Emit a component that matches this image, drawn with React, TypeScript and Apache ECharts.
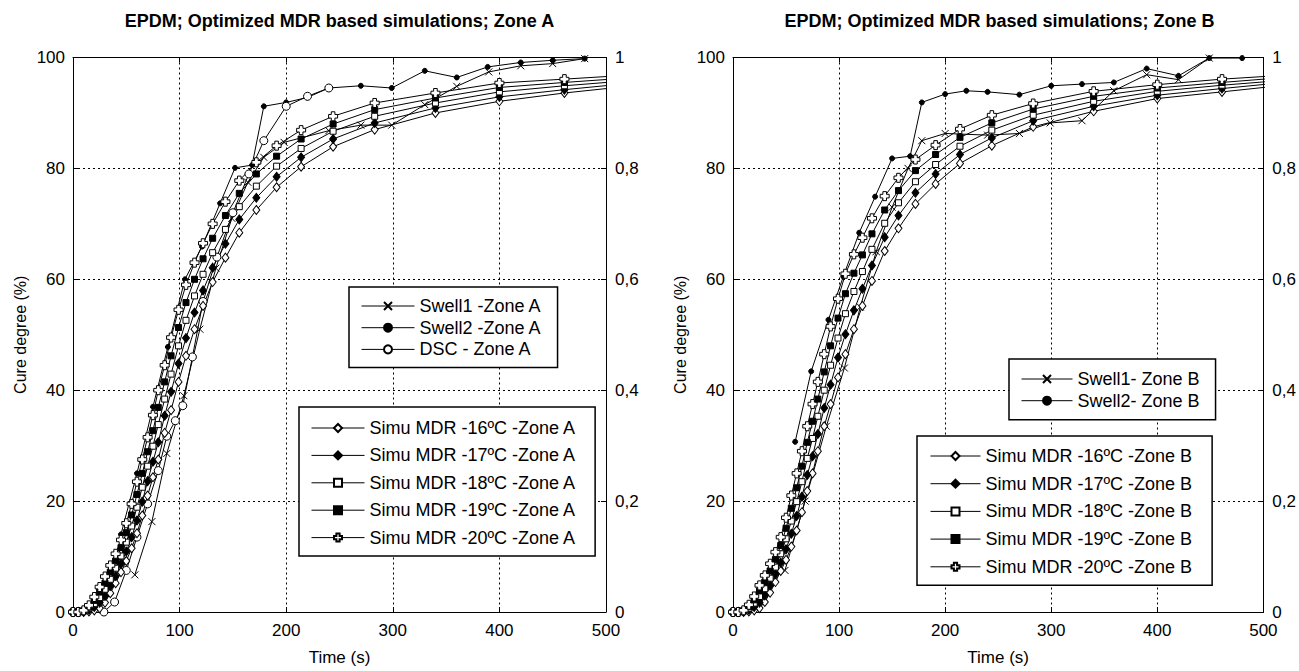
import React, { useEffect, useRef } from 'react';
import * as echarts from 'echarts';

// ---------- DATA ----------
const simuTimes = [0, 5, 10, 15, 20, 25, 30, 35, 40, 45, 50, 55, 60, 65, 70, 75, 80, 86, 92, 99, 106, 114, 122, 131, 143, 156, 172, 191, 214, 244, 283, 340, 400, 461, 520];

const simu16A = [0, 0, 0, 0.1, 0.3, 0.7, 1.7, 3.4, 5.2, 7.2, 9.2, 11.5, 14.2, 17.4, 21, 24.3, 27.5, 32.3, 36.4, 41.5, 46.2, 51, 55.2, 59.5, 63.9, 68.4, 72.5, 76.6, 80.3, 83.9, 87.0, 90.0, 92.1, 93.6, 94.8];
const simu17A = [0, 0, 0.1, 0.4, 0.9, 1.7, 2.9, 4.7, 6.5, 8.7, 10.9, 13.5, 16.5, 19.9, 23.6, 27.1, 30.6, 35.4, 39.7, 44.8, 49.4, 54, 58, 62.1, 66.4, 70.8, 74.7, 78.5, 82, 85.3, 88.2, 90.9, 92.9, 94.2, 95.3];
const simu18A = [0, 0, 0.2, 0.7, 1.5, 2.6, 4.1, 5.9, 7.9, 10.1, 12.6, 15.5, 18.9, 22.5, 26.3, 29.9, 33.8, 38.4, 42.9, 48, 52.6, 57, 60.9, 64.8, 69, 73.1, 76.8, 80.4, 83.6, 86.7, 89.4, 91.8, 93.8, 94.9, 95.8];
const simu19A = [0, 0, 0.2, 0.9, 2.1, 3.6, 5.2, 7.2, 9.2, 11.6, 14.3, 17.5, 21.2, 25, 28.9, 32.7, 36.9, 41.5, 46.2, 51.3, 55.8, 60, 63.7, 67.4, 71.5, 75.5, 79, 82.2, 85.3, 88, 90.6, 92.7, 94.6, 95.5, 96.3];
const simu20A = [0, 0, 0.3, 1.2, 2.7, 4.5, 6.4, 8.4, 10.5, 13, 16, 19.5, 23.5, 27.5, 31.5, 35.5, 40, 44.5, 49.5, 54.5, 59, 63, 66.5, 70, 74, 77.8, 81.1, 84.1, 86.9, 89.4, 91.8, 93.6, 95.4, 96.1, 96.8];

const simu16B = [0, 0, 0, 0.1, 0.3, 0.7, 1.8, 3.5, 5.4, 7.4, 9.4, 11.8, 14.7, 18, 21.8, 25, 29, 33.5, 37.5, 42.3, 46.5, 51, 55.2, 59.7, 65.1, 69.2, 73.6, 77.2, 80.9, 84.1, 87.5, 90.3, 92.6, 93.8, 95];
const simu17B = [0, 0, 0.1, 0.4, 0.9, 1.7, 3.0, 4.8, 6.8, 8.9, 11.3, 14.1, 17.3, 20.8, 24.7, 28.1, 32.1, 36.8, 41, 45.9, 50.1, 54.4, 58.3, 62.5, 67.6, 71.5, 75.6, 79, 82.5, 85.5, 88.6, 91.2, 93.2, 94.4, 95.5];
const simu18B = [0, 0, 0.2, 0.7, 1.6, 2.8, 4.2, 6.1, 8.1, 10.5, 13.2, 16.4, 19.9, 23.5, 27.7, 31.3, 35.3, 40, 44.5, 49.4, 53.8, 57.8, 61.4, 65.4, 70.1, 73.8, 77.6, 80.7, 84, 86.9, 89.6, 92.1, 93.9, 95, 95.9];
const simu19B = [0, 0, 0.2, 1.0, 2.2, 3.8, 5.4, 7.4, 9.5, 12, 15.1, 18.7, 22.4, 26.3, 30.6, 34.4, 38.4, 43.3, 48, 53, 57.4, 61.1, 64.4, 68.2, 72.5, 76, 79.6, 82.5, 85.6, 88.2, 90.7, 93, 94.5, 95.5, 96.4];
const simu20B = [0, 0, 0.3, 1.3, 2.8, 4.8, 6.6, 8.7, 10.8, 13.5, 17, 21, 25, 29, 33.5, 37.5, 41.5, 46.5, 51.5, 56.5, 61, 64.5, 67.5, 71, 75, 78.3, 81.6, 84.2, 87.1, 89.6, 91.7, 93.9, 95.1, 96.1, 96.8];

const swell1ATimes = [58, 74, 88, 104, 119, 134, 149, 164, 179, 198, 240, 270, 299, 330, 360, 390, 420, 450, 480];
const swell1AValues = [6.7, 16.3, 28.6, 39, 51, 62, 71, 77.5, 82, 84.7, 86.8, 87.8, 87.8, 91.5, 94.8, 97.4, 98.5, 98.9, 99.8];
const swell2ATimes = [45, 60, 75, 89, 105, 121, 138, 152, 168, 179, 200, 220, 240, 270, 299, 330, 360, 389, 420, 450, 480];
const swell2AValues = [14, 25, 37, 47.8, 60, 65.9, 73.7, 80.1, 80.6, 91.2, 91.9, 92.8, 94.5, 94.9, 94.5, 97.6, 96.4, 98.3, 99.1, 99.5, 99.8];
const dscATimes = [29, 39, 50, 60, 70, 80, 88, 96, 103, 112, 122, 135, 150, 165, 179, 200, 220, 240];
const dscAValues = [0, 1.8, 7.5, 13.5, 19.5, 25.5, 31.7, 34.5, 37.2, 46, 56, 64, 72, 79, 85, 91.2, 93, 94.5];

const swell1BTimes = [49, 68, 88, 105, 120, 135, 150, 165, 178, 200, 240, 270, 299, 329, 359, 390, 420, 449];
const swell1BValues = [7.5, 20, 33.5, 44, 55, 65, 73, 80, 85, 86.3, 86, 86.3, 88.2, 88.6, 94, 96.9, 96, 99.9];
const swell2BTimes = [58.6, 73.7, 90, 104, 119, 134, 150, 167, 178, 200, 220, 240, 270, 300, 329, 359, 390, 420, 449, 480];
const swell2BValues = [30.7, 43.4, 52.7, 60.5, 68.4, 74.9, 81.8, 82.2, 91.9, 93.4, 94, 93.8, 93.3, 94.9, 95.2, 95.5, 98, 96.7, 99.9, 99.9];

const xTicks = { min: 0, max: 500, interval: 100 };
const yTicksLeft = { min: 0, max: 100, interval: 20 };
const yTicksRight = { min: 0, max: 1, interval: 0.2 };

const titleA = 'EPDM; Optimized MDR based simulations; Zone A';
const titleB = 'EPDM; Optimized MDR based simulations; Zone B';
const simuNamesA = ['Simu MDR -16ºC -Zone A', 'Simu MDR -17ºC -Zone A', 'Simu MDR -18ºC -Zone A', 'Simu MDR -19ºC -Zone A', 'Simu MDR -20ºC -Zone A'];
const simuNamesB = ['Simu MDR -16ºC -Zone B', 'Simu MDR -17ºC -Zone B', 'Simu MDR -18ºC -Zone B', 'Simu MDR -19ºC -Zone B', 'Simu MDR -20ºC -Zone B'];
const expNamesA = ['Swell1 -Zone A', 'Swell2 -Zone A', 'DSC - Zone A'];
const expNamesB = ['Swell1- Zone B', 'Swell2- Zone B'];

// ---------- STYLE ----------
const FONT = '"Liberation Sans", Arial, Helvetica, sans-serif';
const BLACK = '#000';
const PLUS = 'path://M3,0H7V3H10V7H7V10H3V7H0V3H3Z';
const CROSS = 'path://M0,0L10,10M0,10L10,0';

const pairs = (ts: number[], vs: number[]) => ts.map((t, i) => [t, vs[i]]);

function lineSeries(name: string, data: number[][], xIdx: number, yIdx: number, symbol: string, size: any, filled: boolean) {
  return {
    type: 'line',
    name,
    data,
    xAxisIndex: xIdx,
    yAxisIndex: yIdx,
    symbol,
    symbolSize: size,
    showSymbol: true,
    clip: true,
    lineStyle: { color: BLACK, width: 1 },
    itemStyle: { color: filled ? BLACK : '#fff', borderColor: BLACK, borderWidth: 1 },
    emphasis: { disabled: true },
    silent: true,
  };
}

function axesFor(gridIndex: number) {
  const tickStyle = { show: true, inside: true, length: 5, lineStyle: { color: BLACK, width: 1 } };
  const axisLine = { show: true, onZero: false, lineStyle: { color: BLACK, width: 1 } };
  const grid = { show: true, lineStyle: { color: BLACK, width: 1, type: [2, 3] } };
  const labelStyle = { color: BLACK, fontFamily: FONT, fontSize: 17 };
  const xBottom = {
    type: 'value', gridIndex, position: 'bottom', ...xTicks,
    axisLine, axisTick: tickStyle,
    axisLabel: { ...labelStyle, margin: 10 },
    splitLine: grid,
    name: 'Time (s)', nameLocation: 'middle', nameGap: 37,
    nameTextStyle: { ...labelStyle },
  };
  const xTop = {
    type: 'value', gridIndex, position: 'top', ...xTicks,
    axisLine, axisTick: tickStyle, axisLabel: { show: false }, splitLine: { show: false },
  };
  const yLeft = {
    type: 'value', gridIndex, position: 'left', ...yTicksLeft,
    axisLine, axisTick: tickStyle,
    axisLabel: { ...labelStyle, margin: 8 },
    splitLine: grid,
    name: 'Cure degree (%)', nameLocation: 'middle', nameGap: 45,
    nameTextStyle: { ...labelStyle, fontSize: 16 },
  };
  const yRight = {
    type: 'value', gridIndex, position: 'right', ...yTicksRight,
    axisLine, axisTick: tickStyle,
    axisLabel: {
      ...labelStyle, margin: 9,
      formatter: (v: number) => (v === 0 ? '0' : v >= 0.999 ? '1' : v.toFixed(1).replace('.', ',')),
    },
    splitLine: { show: false },
  };
  return { xs: [xBottom, xTop], ys: [yLeft, yRight] };
}

function legendBox(names: string[], left: number, top: number, padding: number[], itemWidth: number, itemGap: number) {
  return {
    show: true,
    orient: 'vertical',
    left, top, padding, itemWidth, itemHeight: 10, itemGap,
    data: names,
    selectedMode: false,
    backgroundColor: '#fff',
    borderColor: BLACK,
    borderWidth: 1.5,
    borderRadius: 0,
    lineStyle: { color: BLACK, width: 1 },
    textStyle: { color: BLACK, fontFamily: FONT, fontSize: 18 },
  };
}

export default function App() {
  const ref = useRef<HTMLDivElement>(null);
  useEffect(() => {
    if (!ref.current) return;
    const chart = echarts.init(ref.current, null, { renderer: 'svg' });
    const a = axesFor(0);
    const b = axesFor(1);
    const simuSym: [string, any, boolean][] = [
      ['diamond', [7, 9], false],
      ['diamond', [7, 9], true],
      ['rect', 6, false],
      ['rect', 6, true],
      [PLUS, 9, false],
    ];
    const simuA = [simu16A, simu17A, simu18A, simu19A, simu20A];
    const simuB = [simu16B, simu17B, simu18B, simu19B, simu20B];

    const series: any[] = [
      lineSeries(expNamesA[0], pairs(swell1ATimes, swell1AValues), 0, 0, CROSS, 7, false),
      lineSeries(expNamesA[1], pairs(swell2ATimes, swell2AValues), 0, 0, 'circle', 5, true),
      lineSeries(expNamesA[2], pairs(dscATimes, dscAValues), 0, 0, 'circle', 8, false),
      ...simuA.map((vals, i) => lineSeries(simuNamesA[i], pairs(simuTimes, vals), 0, 0, simuSym[i][0], simuSym[i][1], simuSym[i][2])),
      lineSeries(expNamesB[0], pairs(swell1BTimes, swell1BValues), 2, 2, CROSS, 7, false),
      lineSeries(expNamesB[1], pairs(swell2BTimes, swell2BValues), 2, 2, 'circle', 5, true),
      ...simuB.map((vals, i) => lineSeries(simuNamesB[i], pairs(simuTimes, vals), 2, 2, simuSym[i][0], simuSym[i][1], simuSym[i][2])),
    ];

    chart.setOption({
      animation: false,
      backgroundColor: '#fff',
      textStyle: { fontFamily: FONT },
      title: [
        { text: titleA, left: 339.5, top: 12, textAlign: 'center', padding: 0, textStyle: { fontFamily: FONT, fontSize: 18, fontWeight: 'bold', color: BLACK } },
        { text: titleB, left: 999.5, top: 12, textAlign: 'center', padding: 0, textStyle: { fontFamily: FONT, fontSize: 18, fontWeight: 'bold', color: BLACK } },
      ],
      grid: [
        { left: 73, top: 57.5, width: 533, height: 556.5, show: false, containLabel: false },
        { left: 733, top: 57.5, width: 533, height: 556.5, show: false, containLabel: false },
      ],
      xAxis: [...a.xs, ...b.xs],
      yAxis: [...a.ys, ...b.ys],
      legend: [
        legendBox(expNamesA, 349, 287, [10, 16, 9, 12], 53, 3.7),
        legendBox(simuNamesA, 299, 407, [12, 19, 9.5, 12], 53, 9.4),
        legendBox(expNamesB, 1009, 359, [11, 16, 10, 12], 51, 3.7),
        legendBox(simuNamesB, 917, 436, [11, 20, 9.5, 13], 50, 9.7),
      ],
      series,
    });
    return () => chart.dispose();
  }, []);
  return <div ref={ref} style={{ position: 'absolute', left: 0, top: 0, width: 1299, height: 671 }} />;
}
